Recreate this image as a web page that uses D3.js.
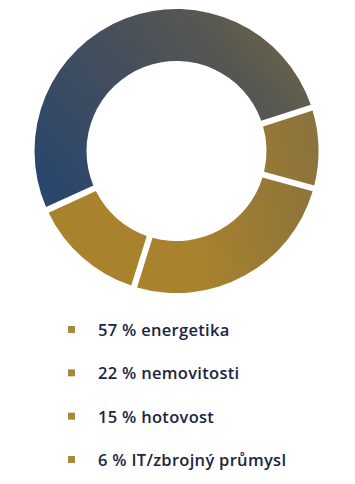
<!DOCTYPE html>
<html>
<head>
<meta charset="utf-8">
<script src="https://cdn.jsdelivr.net/npm/d3@7"></script>
<style>
    html, body {margin: 0; padding: 0; background: #fff;}
    svg {display: block;}
</style>
</head>
<body>
<svg id="chart" width="355" height="484"></svg>
<script>
// legend values and labels
const percents = [57, 22, 15, 6];
const labels = ["energetika", "nemovitosti", "hotovost", "IT/zbrojný průmysl"];

// ring segments in drawing order (clockwise), shares as drawn in the picture
const segments = ["energetika", "IT/zbrojný průmysl", "nemovitosti", "hotovost"];
const arcShare = [52.5, 8.8, 25.6, 13.1];


const w = 355, h = 484;
const cx = 176.5, cy = 151;
const r_outer = 142, r_inner = 90;

const svg = d3.select("#chart");
const defs = svg.append("defs");

// gradients
const grad = (id, x1, y1, x2, y2, stops) => {
    const g = defs.append("linearGradient")
        .attr("id", id)
        .attr("gradientUnits", "userSpaceOnUse")
        .attr("x1", x1).attr("y1", y1).attr("x2", x2).attr("y2", y2);
    g.selectAll("stop").data(stops).join("stop")
        .attr("offset", d => d[0])
        .attr("stop-color", d => d[1]);
};
grad("g_blue", 40, 250, 320, 20, [[0, "#29466d"], [0.42, "#47505a"], [0.62, "#555752"], [0.78, "#6a6248"], [1, "#74684a"]]);
grad("g_gold", 40, 220, 300, 170, [[0, "#a9822d"], [1, "#706649"]]);

const fill_of = name => name === "energetika" ? "url(#g_blue)" : "url(#g_gold)";

const start = -114.5 * Math.PI / 180;
const pie = d3.pie().sort(null).value(d => d.v)
    .startAngle(start).endAngle(start + 2 * Math.PI)
    .padAngle(0.036);

const arc = d3.arc().innerRadius(r_inner).outerRadius(r_outer);

const ring = svg.append("g").attr("transform", `translate(${cx}, ${cy})`);
ring.selectAll("path")
    .data(pie(segments.map((s, i) => ({name: s, v: arcShare[i]}))))
    .join("path")
    .attr("d", arc)
    .attr("fill", d => fill_of(d.data.name));

// legend
const y = d3.scalePoint().domain(labels).range([336, 466]);

const legend = svg.append("g");
legend.selectAll("rect").data(labels).join("rect")
    .attr("x", 68)
    .attr("y", d => y(d) - 10)
    .attr("width", 7)
    .attr("height", 7)
    .attr("fill", "#a8893c");

legend.selectAll("text").data(labels).join("text")
    .attr("x", 98)
    .attr("y", d => y(d))
    .attr("fill", "#1b2542")
    .style("font-family", "'Open Sans', Lato, sans-serif")
    .style("font-weight", 600)
    .style("font-size", "16.5px")
    .style("letter-spacing", "0.3px")
    .text((d, i) => `${percents[i]} % ${d}`);
</script>
</body>
</html>
